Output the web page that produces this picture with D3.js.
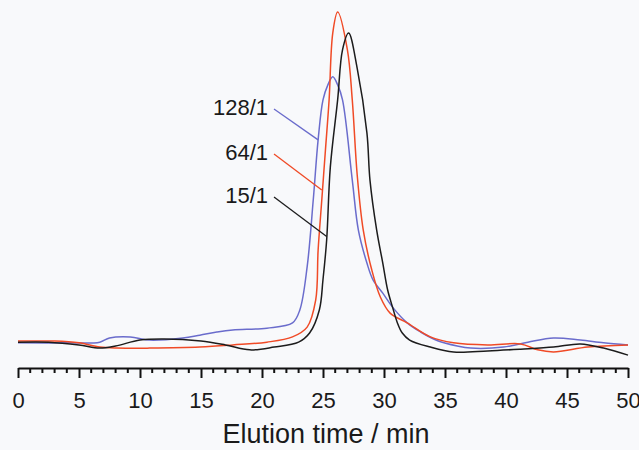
<!DOCTYPE html>
<html>
<head>
<meta charset="utf-8">
<script src="https://cdn.jsdelivr.net/npm/d3@7"></script>
<style>
  body { margin: 0; background: #f8f9fb; }
  svg { display: block; font-family: Arial, "Liberation Sans", sans-serif; }
</style>
</head>
<body>
<div id="chart"></div>
<script>
// Elution time (min) and detector signal (a.u.) per sample
const time15 = [0, 2.5, 5, 6.7, 8, 10, 12, 15, 17, 19, 21, 23, 23.9, 24.7, 25.0, 25.3, 25.6, 26.2, 26.6, 27.1, 27.8, 28.6, 28.85, 29.4, 29.9, 30.3, 30.7, 31.1, 31.5, 32.1, 33.8, 35.7, 38.5, 41.2, 43.9, 46.1, 48, 50];
const signal15 = [5.1, 5.1, 4.3, 3.4, 4.0, 5.7, 6.0, 5.4, 4.3, 2.9, 3.7, 5.1, 7.7, 14.3, 23, 34.3, 55.1, 74.3, 88.6, 93.4, 83.4, 64.9, 51.4, 37.1, 27.7, 20, 15.1, 10.6, 7.7, 5.7, 3.7, 2.3, 2.6, 3.1, 3.7, 4.6, 3.4, 1.4];

const time64 = [0, 1.2, 3, 5, 6.7, 8.1, 10.8, 14.9, 17.6, 20.4, 22.5, 23.7, 24.4, 24.6, 24.9, 25.2, 25.5, 25.8, 26.2, 27.0, 27.4, 27.8, 28.3, 29.0, 29.7, 30.5, 31.9, 33.8, 35.7, 38.5, 41.2, 42.6, 43.9, 46.7, 50];
const signal64 = [5.4, 5.4, 5.4, 4.9, 3.7, 3.4, 3.4, 3.7, 4.3, 5.1, 6.6, 9.4, 17.1, 31.4, 45.7, 60, 74.3, 93.4, 99.4, 88.6, 74.3, 53, 37.1, 25.7, 18, 13.4, 10.6, 6.6, 4.9, 4.3, 4.6, 2.9, 2.3, 3.7, 4.3];

const time128 = [0, 4, 6.7, 7.5, 9.2, 10.8, 13.5, 14.9, 16.3, 17.6, 20.4, 22.5, 23.1, 23.7, 24.2, 24.6, 25.0, 25.4, 25.8, 26.2, 26.6, 27.4, 27.9, 28.6, 29.1, 29.9, 30.7, 31.9, 33.0, 34.4, 36, 37.1, 39.8, 41.8, 43.9, 46.1, 48, 50];
const signal128 = [4.9, 4.9, 5.1, 6.3, 6.6, 5.7, 6.3, 7.1, 8.0, 8.6, 9.1, 10.6, 14.3, 26.6, 45.7, 62.9, 74.3, 78.6, 80.9, 78.6, 74.3, 51.4, 37.1, 27.7, 22.9, 19.1, 15.1, 10.6, 8, 5.5, 4, 3.4, 3.7, 5.1, 6.3, 5.7, 4.9, 4.3];

const seriesNames = ["15/1", "64/1", "128/1"];
const seriesColors = ["#1c1c1c", "#f04a26", "#6a6ccc"];
// where each leader line meets its curve: [time, signal]
const labelTargets = [[25.3, 35.3], [24.9, 48.6], [24.6, 62.9]];

const xTicks = d3.range(0, 51, 5);

const width = 639, height = 450;
const svg = d3.select('#chart').append('svg')
    .attr('width', width)
    .attr('height', height);

const x = d3.scaleLinear().domain([0, 50]).range([18, 628]);
const y = d3.scaleLinear().domain([0, 100]).range([360, 10]);

// axis
const axisY = 368;
const axis = d3.axisBottom(x)
    .tickValues(xTicks)
    .tickSize(10)
    .tickPadding(14)
    .tickSizeOuter(0);
const axisG = svg.append('g')
    .attr('transform', `translate(0,${axisY})`)
    .call(axis);
axisG.select('.domain').attr('stroke', '#111').attr('stroke-width', 2);
axisG.selectAll('.tick line').attr('stroke', '#111').attr('stroke-width', 2);
axisG.selectAll('.tick text')
    .attr('font-size', 22)
    .attr('fill', '#1a1a1a')
    .attr('font-family', 'Arial, "Liberation Sans", sans-serif');

// minor ticks
svg.append('g')
    .selectAll('line')
    .data(d3.range(0, 51, 1).filter(d => d % 5 !== 0))
    .enter().append('line')
    .attr('x1', d => x(d)).attr('x2', d => x(d))
    .attr('y1', axisY).attr('y2', axisY + 5)
    .attr('stroke', '#111')
    .attr('stroke-width', 2);

svg.append('text')
    .attr('x', 326)
    .attr('y', 443)
    .attr('text-anchor', 'middle')
    .attr('font-size', 27)
    .attr('fill', '#1a1a1a')
    .text('Elution time / min');

// curves
const line = d3.line()
    .x(d => x(d[0]))
    .y(d => y(d[1]))
    .curve(d3.curveCatmullRom.alpha(0.5));

const series = [
    { name: seriesNames[0], t: time15, s: signal15, color: seriesColors[0] },
    { name: seriesNames[1], t: time64, s: signal64, color: seriesColors[1] },
    { name: seriesNames[2], t: time128, s: signal128, color: seriesColors[2] }
];

// blue first, then red, black on top
[2, 1, 0].forEach(i => {
    const d = series[i];
    svg.append('path')
        .datum(d.t.map((t, j) => [t, d.s[j]]))
        .attr('fill', 'none')
        .attr('stroke', d.color)
        .attr('stroke-width', 1.5)
        .attr('d', line);
});

// labels with leader lines
const labelPos = [[268, 203], [268, 160], [268, 115]];
series.forEach((d, i) => {
    const [lx, ly] = labelPos[i];
    svg.append('text')
        .attr('x', lx)
        .attr('y', ly)
        .attr('text-anchor', 'end')
        .attr('font-size', 22)
        .attr('fill', '#1a1a1a')
        .text(d.name);
    svg.append('line')
        .attr('x1', lx + 6)
        .attr('y1', ly - 6)
        .attr('x2', x(labelTargets[i][0]))
        .attr('y2', y(labelTargets[i][1]))
        .attr('stroke', d.color)
        .attr('stroke-width', 1.3);
});
</script>
</body>
</html>
